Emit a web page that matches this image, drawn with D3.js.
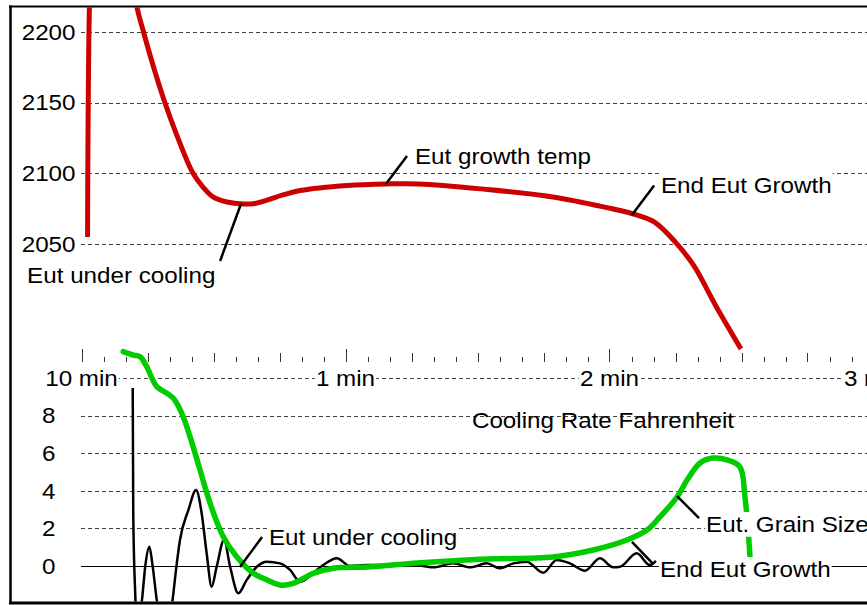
<!DOCTYPE html>
<html>
<head>
<meta charset="utf-8">
<script src="https://cdn.jsdelivr.net/npm/d3@7"></script>
<style>
  html, body { margin: 0; padding: 0; background: #fff; }
  svg { display: block; }
  text { font-family: "Liberation Sans", Arial, sans-serif; font-size: 22px; fill: #000; }
</style>
</head>
<body>
<div id="plot"></div>
<script>
// Time axis (minutes)
const timeTicks = [0, 1, 2, 3];
const timeLabels = ["10 min", "1 min", "2 min", "3 min"];

// Upper chart: melt temperature, Fahrenheit
const tempTicks = [2050, 2100, 2150, 2200];
const tempTime = [0.023, 0.030, 0.045, 0.19, 0.210, 0.235, 0.265, 0.3125, 0.358, 0.422, 0.460, 0.498,
    0.551, 0.612, 0.657, 0.703, 0.763, 0.828, 1.006, 1.157, 1.278, 1.513, 1.786, 1.991, 2.089, 2.169,
    2.252, 2.320, 2.403, 2.498];
const tempValue = [2055, 2218, 2300, 2245, 2217.7, 2200, 2180.2, 2151.9, 2128.5, 2100.2, 2090.3, 2083.3,
    2079.7, 2078.3, 2078.7, 2081.1, 2084.7, 2087.8, 2091.4, 2092.5, 2092.5, 2089.0, 2083.3, 2075.7, 2071.3,
    2065.6, 2050.8, 2034.5, 2006.2, 1975.8];

// Lower chart: cooling rate (black) and grain size (green)
const rateTicks = [0, 2, 4, 6, 8];
const rateGrid = [2, 4, 6, 8, 10];
const rateTime = [0.194, 0.196, 0.203, 0.212, 0.229, 0.242, 0.257, 0.269, 0.285, 0.315, 0.345, 0.358,
    0.373, 0.405, 0.434, 0.455, 0.474, 0.493, 0.512, 0.540, 0.563, 0.594, 0.626, 0.664, 0.702, 0.752,
    0.790, 0.828, 0.878, 0.916, 0.967, 1.017, 1.080, 1.143, 1.206, 1.270, 1.333, 1.408, 1.472, 1.535,
    1.585, 1.636, 1.686, 1.749, 1.800, 1.850, 1.907, 1.964, 2.014, 2.040, 2.103, 2.153, 2.176];
const rateValue = [9.47, 2.82, -1.28, -3.14, -1.81, 0.05, 1.03, 0.05, -1.81, -3.94, -1.81, -0.21,
    1.38, 2.98, 4.04, 2.82, 0.69, -1.10, -0.04, 1.38, -0.04, -1.45, -0.74, -0.04, 0.23, 0.14,
    -0.21, -0.84, -0.36, 0.05, 0.41, 0, 0.05, 0.05, 0.14, 0.05, -0.07, 0.14, -0.07, 0.14,
    -0.12, 0.14, 0.23, -0.36, 0.32, 0.14, -0.25, 0.41, -0.07, -0.04, 0.68, 0.05, 0.27];
const grainTime = [0.158, 0.196, 0.222, 0.247, 0.285, 0.323, 0.348, 0.380, 0.411, 0.449, 0.487, 0.537,
    0.588, 0.651, 0.703, 0.752, 0.802, 0.878, 0.954, 1.081, 1.271, 1.396, 1.536, 1.786, 1.938, 2.066,
    2.142, 2.191, 2.256, 2.294, 2.343, 2.392, 2.445, 2.494, 2.513, 2.525, 2.532];
const grainValue = [11.40, 11.22, 11.13, 10.60, 9.54, 9.19, 8.92, 8.12, 6.88, 5.11, 3.34, 1.56,
    0.49, -0.39, -0.74, -1.01, -0.92, -0.39, -0.12, -0.05, 0.16, 0.27, 0.37, 0.48, 0.85, 1.38,
    1.91, 2.61, 3.67, 4.57, 5.48, 5.74, 5.64, 5.27, 3.67, 1.91, 0.53];

// Callouts: leader from (t0,v0) to (t1,v1), text at (tx,ty), all in data units
const tempNotes = [
    {text: "Eut under cooling", t0: 0.604, v0: 2078.3, t1: 0.525, v1: 2038.0, tx: -0.206, ty: 2022.4},
    {text: "Eut growth temp", t0: 1.153, v0: 2092.4, t1: 1.233, v1: 2112.3, tx: 1.263, ty: 2106.6},
    {text: "End Eut Growth", t0: 2.085, v0: 2070.5, t1: 2.169, v1: 2091.4, tx: 2.195, ty: 2086.1}
];
const rateNotes = [
    {text: "Eut under cooling", t0: 0.600, v0: -0.05, t1: 0.684, v1: 1.54, tx: 0.710, ty: 1.12},
    {text: "Eut. Grain Size", t0: 2.256, v0: 3.72, t1: 2.339, v1: 2.55, tx: 2.366, ty: 1.81},
    {text: "End Eut Growth", t0: 2.085, v0: 1.28, t1: 2.165, v1: 0.11, tx: 2.191, ty: -0.59}
];
const rateTitle = {text: "Cooling Rate Fahrenheit", tx: 1.479, ty: 7.34};

// Chart dimensions
const width = 867;
const height = 605;
const frameLeft = 10.5;
const frameTop = 6.5;
const frameBottom = 603;
const gridLeft = 81;
const axisY = 362;
const stretch = 1.1;

const x = d3.scaleLinear().domain([0, 3]).range([81.5, 873.5]);
const yTemp = d3.scaleLinear().domain([2050, 2200]).range([244, 32]);
const yRate = d3.scaleLinear().domain([0, 10]).range([566, 378]);

const svg = d3.select("#plot")
    .append("svg")
    .attr("width", width)
    .attr("height", height)
    .attr("viewBox", [0, 0, width, height]);

const defs = svg.append("defs");
defs.append("clipPath").attr("id", "clipTop")
    .append("rect").attr("x", 12).attr("y", 7.5).attr("width", width).attr("height", axisY - 7.5);
defs.append("clipPath").attr("id", "clipBottom")
    .append("rect").attr("x", 12).attr("y", 340).attr("width", width).attr("height", frameBottom - 1.5 - 340);

const crisp = v => Math.round(v) + 0.5;

// Text with the slightly wide look of the original
function label(g, px, py, str, anchor, withBg) {
    const holder = g.append("g").attr("transform", `translate(${px},${py}) scale(${stretch},1)`);
    const bg = holder.append("rect").attr("fill", "#fff");
    const txt = holder.append("text").attr("text-anchor", anchor).text(str);
    if (withBg) {
        const b = txt.node().getBBox();
        bg.attr("x", b.x - 1).attr("y", b.y).attr("width", b.width + 2).attr("height", b.height);
    } else {
        bg.remove();
    }
    return txt;
}

// Grid lines
const grid = svg.append("g")
    .attr("stroke", "#444")
    .attr("stroke-width", 1)
    .attr("stroke-dasharray", "4,3");

grid.selectAll(".gt")
    .data(tempTicks)
    .join("line")
    .attr("x1", gridLeft).attr("x2", width)
    .attr("y1", d => crisp(yTemp(d))).attr("y2", d => crisp(yTemp(d)));

grid.selectAll(".gr")
    .data(rateGrid)
    .join("line")
    .attr("x1", gridLeft).attr("x2", width)
    .attr("y1", d => crisp(yRate(d))).attr("y2", d => crisp(yRate(d)));

// Zero line of the lower chart
svg.append("line")
    .attr("x1", gridLeft).attr("x2", width)
    .attr("y1", crisp(yRate(0))).attr("y2", crisp(yRate(0)))
    .attr("stroke", "#000").attr("stroke-width", 1);

// Time axis ticks: every 5 seconds, longer every 15 s and every minute
const tickSteps = d3.range(0, 37);
svg.append("g")
    .attr("stroke", "#333")
    .attr("stroke-width", 1)
    .selectAll("line")
    .data(tickSteps)
    .join("line")
    .attr("x1", i => crisp(x(i / 12))).attr("x2", i => crisp(x(i / 12)))
    .attr("y1", i => axisY - (i % 12 === 0 ? 13 : i % 3 === 0 ? 9 : 5))
    .attr("y2", axisY);

// Y axis labels
const labels = svg.append("g");
tempTicks.forEach(d => label(labels, 75.5, yTemp(d), d, "end", false).attr("dy", "0.35em"));
rateTicks.forEach(d => label(labels, 55.5, yRate(d), d, "end", false).attr("dy", "0.35em"));

// Time labels sit on the top grid line of the lower chart
timeTicks.forEach((d, i) => {
    const tmp = labels.append("text").text(timeLabels[i]);
    const w = tmp.node().getComputedTextLength() * stretch;
    tmp.remove();
    const cx = Math.max(x(d), 37 + w / 2);
    label(labels, cx, yRate(10) + 7.5, timeLabels[i], "middle", true);
});

// Lines
const line = (xs, ys, yScale, curve) => d3.line()
    .x(i => x(xs[i]))
    .y(i => yScale(ys[i]))
    .curve(curve)(d3.range(xs.length));

svg.append("g").attr("clip-path", "url(#clipTop)")
    .append("path")
    .attr("d", line(tempTime, tempValue, yTemp, d3.curveCatmullRom.alpha(0.5)))
    .attr("fill", "none")
    .attr("stroke", "#cc0000")
    .attr("stroke-width", 5)
    .attr("stroke-linejoin", "round");

const bottom = svg.append("g").attr("clip-path", "url(#clipBottom)");

bottom.append("path")
    .attr("d", line(rateTime, rateValue, yRate, d3.curveMonotoneX))
    .attr("fill", "none")
    .attr("stroke", "#000")
    .attr("stroke-width", 2.5)
    .attr("stroke-linejoin", "round");

bottom.append("path")
    .attr("d", line(grainTime, grainValue, yRate, d3.curveCatmullRom.alpha(0.5)))
    .attr("fill", "none")
    .attr("stroke", "#00cc00")
    .attr("stroke-width", 5.5)
    .attr("stroke-linecap", "round")
    .attr("stroke-linejoin", "round");

// Callouts
const notes = svg.append("g");
function callouts(list, yScale) {
    list.forEach(n => {
        notes.append("line")
            .attr("x1", x(n.t0)).attr("y1", yScale(n.v0))
            .attr("x2", x(n.t1)).attr("y2", yScale(n.v1))
            .attr("stroke", "#000")
            .attr("stroke-width", 2.5);
        label(notes, x(n.tx), yScale(n.ty), n.text, "start", true);
    });
}
callouts(tempNotes, yTemp);
callouts(rateNotes, yRate);
label(notes, x(rateTitle.tx), yRate(rateTitle.ty), rateTitle.text, "start", false);

// Frame
const frame = svg.append("g").attr("stroke", "#000");
frame.append("line").attr("x1", 9).attr("x2", width).attr("y1", frameTop).attr("y2", frameTop).attr("stroke-width", 2);
frame.append("line").attr("x1", frameLeft).attr("x2", frameLeft).attr("y1", 5.5).attr("y2", frameBottom).attr("stroke-width", 2.5);
frame.append("line").attr("x1", 9).attr("x2", width).attr("y1", frameBottom).attr("y2", frameBottom).attr("stroke-width", 3);
</script>
</body>
</html>
